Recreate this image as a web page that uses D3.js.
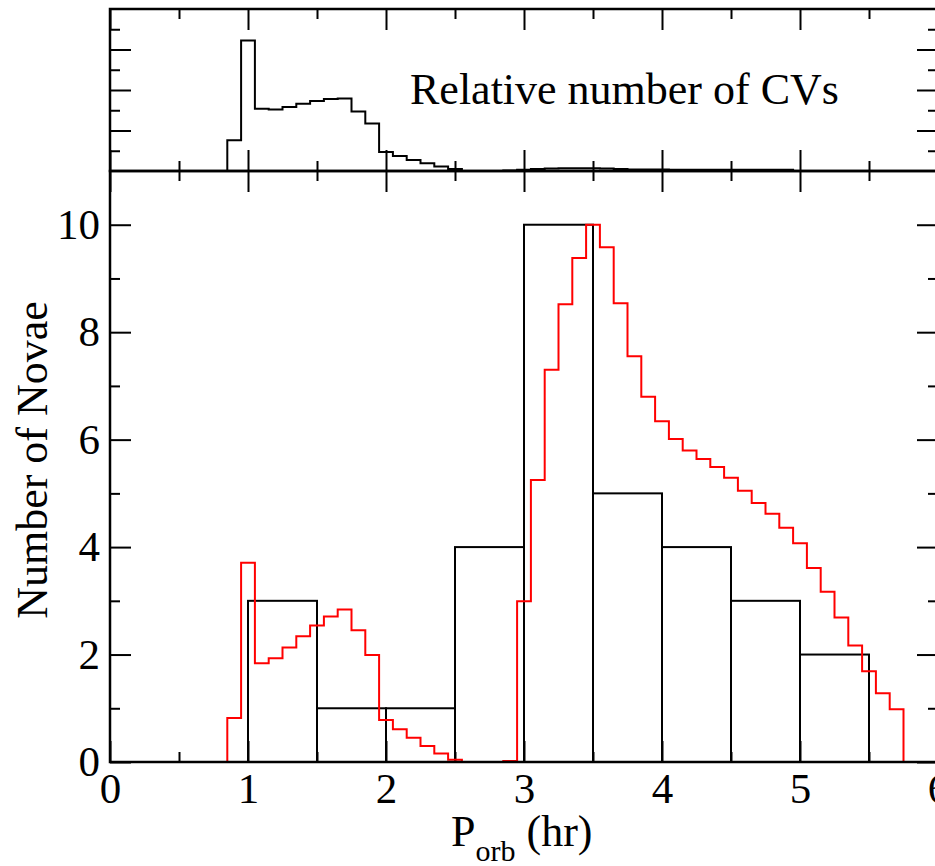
<!DOCTYPE html>
<html>
<head>
<meta charset="utf-8">
<script src="https://cdn.jsdelivr.net/npm/d3@7"></script>
<style>
  body { margin: 0; background: #fff; }
  svg { display: block; }
  text { font-family: "Liberation Serif", "Times New Roman", serif; fill: #000; }
</style>
</head>
<body>
<script>
// Bin left edges of the 0.1 hr histograms start at 0.85 hr
const binStart = 0.85;
const binWidth = 0.1;

// Top panel: relative number of CVs per 0.1 hr bin
const cvCounts = [
  0.76, 3.22, 1.54, 1.52, 1.58, 1.66, 1.73, 1.78, 1.79, 1.47,
  1.17, 0.47, 0.37, 0.27, 0.19, 0.11, 0.05, 0, 0, 0,
  0.01, 0.03, 0.05, 0.06, 0.065, 0.065, 0.065, 0.06, 0.05, 0.04,
  0.04, 0.04, 0.03, 0.03, 0.03, 0.03, 0.03, 0.03, 0.03, 0.03, 0.03
];

// Main panel, red: model nova distribution per 0.1 hr bin
const modelNovae = [
  0.82, 3.71, 1.84, 1.93, 2.13, 2.34, 2.54, 2.71, 2.84, 2.45,
  1.99, 0.78, 0.61, 0.45, 0.30, 0.16, 0.04, 0, 0, 0,
  0.02, 2.99, 5.25, 7.30, 8.52, 9.38, 10.0, 9.58, 8.54, 7.55,
  6.80, 6.34, 6.01, 5.80, 5.64, 5.49, 5.29, 5.05, 4.82, 4.62,
  4.36, 4.07, 3.61, 3.17, 2.69, 2.17, 1.69, 1.28, 0.98
];

// Main panel, black: observed novae per 0.5 hr bin
const obsBins = [1.0, 1.5, 2.0, 2.5, 3.0, 3.5, 4.0, 4.5, 5.0];
const obsCounts = [3, 1, 1, 4, 10, 5, 4, 3, 2];
const obsWidth = 0.5;

const xTicks = [0, 1, 2, 3, 4, 5, 6];
const yTicks = [0, 2, 4, 6, 8, 10];

const width = 935;
const height = 866;
const left = 110, right = 938;
const topY = 9, midY = 171, bottomY = 762;

const svg = d3.select('body').append('svg')
  .attr('width', width)
  .attr('height', height);

const x = d3.scaleLinear().domain([0, 6]).range([left, right]);
const yTop = d3.scaleLinear().domain([0, 4]).range([midY, topY]);
const y = d3.scaleLinear().domain([0, 11]).range([bottomY, midY]);

const major = 21, minor = 10;
const fontSize = 43;
const titleSize = 44;

function styleAxis(g) {
  g.select('.domain').remove();
  g.selectAll('.tick line').attr('stroke', '#000').attr('stroke-width', 2);
  g.selectAll('.tick text')
    .style('font-family', '"Liberation Serif", "Times New Roman", serif')
    .style('font-size', fontSize + 'px')
    .attr('fill', '#000');
}

// x ticks: majors every 1, minors every 0.5, on both panels
const xMinor = d3.range(0.5, 6, 1);
function xTickSet(yPos, dir, withLabels) {
  const axisFn = dir === 'bottom' ? d3.axisBottom : d3.axisTop;
  svg.append('g')
    .attr('transform', `translate(0,${yPos})`)
    .call(axisFn(x).tickValues(xTicks).tickSize(-major).tickPadding(10)
      .tickFormat(withLabels ? d3.format('d') : ''))
    .call(styleAxis);
  svg.append('g')
    .attr('transform', `translate(0,${yPos})`)
    .call(axisFn(x).tickValues(xMinor).tickSize(-minor).tickFormat(''))
    .call(styleAxis);
}
xTickSet(bottomY, 'bottom', true);
xTickSet(midY, 'top', false);
xTickSet(midY, 'bottom', false);
xTickSet(topY, 'top', false);

// y ticks main panel
svg.append('g')
  .attr('transform', `translate(${left},0)`)
  .call(d3.axisLeft(y).tickValues(yTicks).tickSize(-major).tickPadding(10).tickFormat(d3.format('d')))
  .call(styleAxis);
svg.append('g')
  .attr('transform', `translate(${left},0)`)
  .call(d3.axisLeft(y).tickValues(d3.range(1, 11, 2)).tickSize(-minor).tickFormat(''))
  .call(styleAxis);
svg.append('g')
  .attr('transform', `translate(${right},0)`)
  .call(d3.axisRight(y).tickValues(yTicks).tickSize(-major).tickFormat(''))
  .call(styleAxis);
svg.append('g')
  .attr('transform', `translate(${right},0)`)
  .call(d3.axisRight(y).tickValues(d3.range(1, 11, 2)).tickSize(-minor).tickFormat(''))
  .call(styleAxis);

// y ticks top panel
[[left, d3.axisLeft], [right, d3.axisRight]].forEach(([xp, fn]) => {
  svg.append('g')
    .attr('transform', `translate(${xp},0)`)
    .call(fn(yTop).tickValues([1, 2, 3]).tickSize(-major).tickFormat(''))
    .call(styleAxis);
  svg.append('g')
    .attr('transform', `translate(${xp},0)`)
    .call(fn(yTop).tickValues([0.5, 1.5, 2.5, 3.5]).tickSize(-minor).tickFormat(''))
    .call(styleAxis);
});

// step path helper: start at 0, one level per bin, back to 0
function stepPoints(values) {
  const pts = [{ x: binStart, v: 0 }];
  values.forEach((v, i) => pts.push({ x: binStart + i * binWidth, v: v }));
  pts.push({ x: binStart + values.length * binWidth, v: 0 });
  return pts;
}

// top panel CV histogram
const topLine = d3.line()
  .x(d => x(d.x))
  .y(d => yTop(d.v))
  .curve(d3.curveStepAfter);
svg.append('path')
  .datum(stepPoints(cvCounts))
  .attr('d', topLine)
  .attr('fill', 'none')
  .attr('stroke', '#000')
  .attr('stroke-width', 2);

// observed novae bars
svg.selectAll('rect.obs')
  .data(obsBins.map((b, i) => ({ b: b, n: obsCounts[i] })))
  .enter().append('rect')
  .attr('class', 'obs')
  .attr('x', d => x(d.b))
  .attr('y', d => y(d.n))
  .attr('width', d => x(d.b + obsWidth) - x(d.b))
  .attr('height', d => y(0) - y(d.n))
  .attr('fill', 'none')
  .attr('stroke', '#000')
  .attr('stroke-width', 2);

// model novae step line
const mainLine = d3.line()
  .x(d => x(d.x))
  .y(d => y(d.v))
  .curve(d3.curveStepAfter);
svg.append('path')
  .datum(stepPoints(modelNovae))
  .attr('d', mainLine)
  .attr('fill', 'none')
  .attr('stroke', '#ff0000')
  .attr('stroke-width', 2);

// frames
svg.append('rect')
  .attr('x', left).attr('y', topY)
  .attr('width', right - left).attr('height', midY - topY)
  .attr('fill', 'none').attr('stroke', '#000').attr('stroke-width', 2.5);
svg.append('rect')
  .attr('x', left).attr('y', midY)
  .attr('width', right - left).attr('height', bottomY - midY)
  .attr('fill', 'none').attr('stroke', '#000').attr('stroke-width', 2.5);

// labels
svg.append('text')
  .attr('x', 410)
  .attr('y', 104)
  .style('font-size', titleSize + 'px')
  .text('Relative number of CVs');

svg.append('text')
  .attr('transform', `translate(47,${460}) rotate(-90)`)
  .attr('text-anchor', 'middle')
  .style('font-size', titleSize + 'px')
  .text('Number of Novae');

const xl = svg.append('text')
  .attr('x', 451)
  .attr('y', 846)
  .style('font-size', titleSize + 'px');
xl.append('tspan').text('P');
xl.append('tspan').attr('dy', 15).style('font-size', '30px').text('orb');
xl.append('tspan').attr('dy', -15).text(' (hr)');
</script>
</body>
</html>
